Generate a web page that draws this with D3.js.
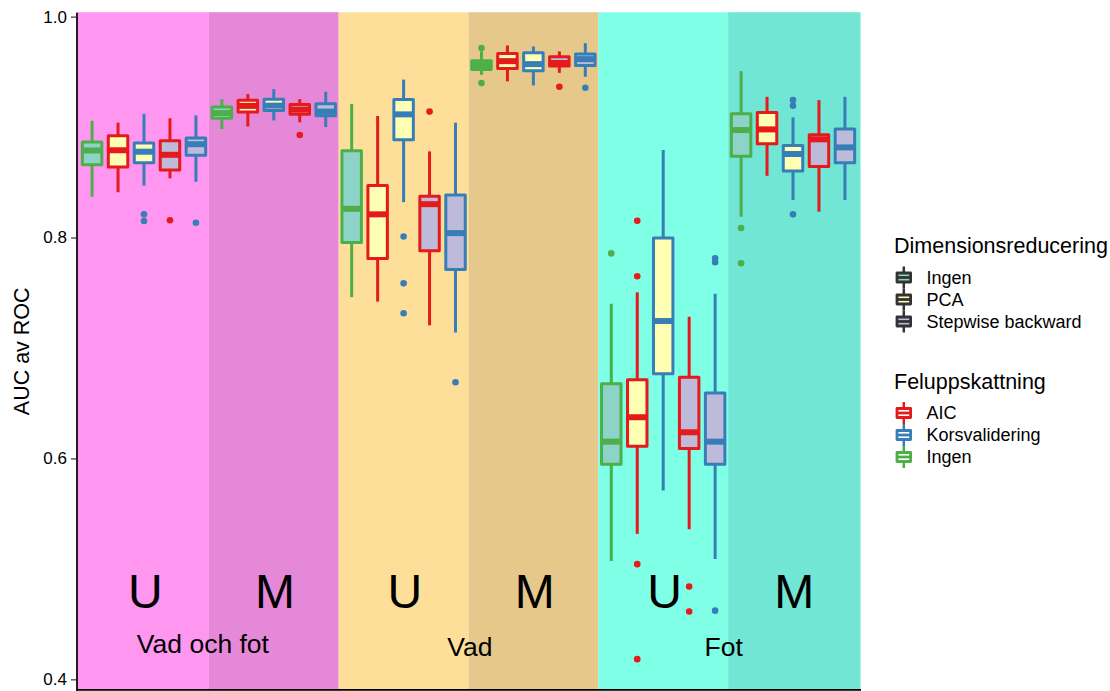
<!DOCTYPE html>
<html>
<head>
<meta charset="utf-8">
<script src="https://cdn.jsdelivr.net/npm/d3@7"></script>
<style>
  body { margin: 0; background: #fff; }
  svg { display: block; font-family: "Liberation Sans", Arial, Helvetica, sans-serif; }
</style>
</head>
<body>
<svg id="chart" width="1110" height="691"></svg>
<script>
// Body-part groups, each split into the U and M model sets
const panels = ["Vad och fot", "Vad", "Fot"];
const subsets = ["U", "M"];

// Model order inside every subset (5 boxes)
const dimReduction = ["Ingen", "PCA", "PCA", "Stepwise backward", "Stepwise backward"];
const errorEstimation = ["Ingen", "AIC", "Korsvalidering", "AIC", "Korsvalidering"];

// Legend levels
const dimLevels = ["Ingen", "PCA", "Stepwise backward"];
const errLevels = ["AIC", "Korsvalidering", "Ingen"];

// Box statistics for the 30 boxes (panel x subset x model), AUC values
const whiskerLow = [
  0.837, 0.841, 0.847, 0.8536, 0.8505,
  0.8982, 0.9006, 0.906, 0.9043, 0.900,
  0.746, 0.742, 0.832, 0.7205, 0.714,
  0.9473, 0.9414, 0.9377, 0.9491, 0.9455,
  0.5072, 0.5317, 0.5709, 0.5359, 0.509,
  0.8188, 0.8559, 0.8339, 0.8234, 0.8339
];
const q1 = [
  0.866, 0.8638, 0.8677, 0.8611, 0.8744,
  0.9079, 0.9136, 0.9151, 0.9115, 0.9102,
  0.7955, 0.781, 0.8885, 0.788, 0.771,
  0.9522, 0.9531, 0.951, 0.9552, 0.9558,
  0.5947, 0.611, 0.6767, 0.6089, 0.5947,
  0.8735, 0.8849, 0.8602, 0.8644, 0.8677
];
const median = [
  0.8788, 0.879, 0.8777, 0.8749, 0.8845,
  0.9127, 0.9192, 0.9194, 0.9158, 0.914,
  0.826, 0.821, 0.9115, 0.8302, 0.804,
  0.9561, 0.9597, 0.957, 0.958, 0.9615,
  0.6152, 0.6373, 0.7244, 0.6237, 0.6152,
  0.8973, 0.8979, 0.8756, 0.8889, 0.8816
];
const q3 = [
  0.8864, 0.8921, 0.8855, 0.8876, 0.890,
  0.9181, 0.9242, 0.9253, 0.9205, 0.9211,
  0.8785, 0.847, 0.925, 0.8373, 0.8385,
  0.960, 0.9667, 0.9672, 0.9636, 0.9661,
  0.6677, 0.6713, 0.7995, 0.6735, 0.6593,
  0.912, 0.9133, 0.8834, 0.893, 0.8982
];
const whiskerHigh = [
  0.9057, 0.904, 0.912, 0.908, 0.9106,
  0.9253, 0.9299, 0.9344, 0.9253, 0.932,
  0.921, 0.910, 0.943, 0.878, 0.904,
  0.9685, 0.9739, 0.973, 0.9685, 0.976,
  0.740, 0.7504, 0.8792, 0.7283, 0.7491,
  0.9507, 0.9274, 0.9088, 0.9244, 0.9274
];
const outliers = [
  [], [], [0.821, 0.815], [0.8156], [0.8134],
  [], [], [], [0.8928], [],
  [], [], [0.801, 0.7585, 0.7314], [0.914], [0.669],
  [0.9715, 0.9398], [], [], [0.9365], [0.9356],
  [0.7857], [0.8152, 0.7649, 0.5043, 0.4183], [], [0.484, 0.4614], [0.7812, 0.7776, 0.4622],
  [0.8086, 0.7767], [], [0.9244, 0.9193, 0.821], [], []
];

// Axis ticks and annotation positions (data units)
const yTicks = [0.4, 0.6, 0.8, 1.0];
const subsetLabelY = 0.48;
const panelLabelX = [5.27, 15.55, 25.33];
const panelLabelY = [0.432, 0.43, 0.43];

// ---------------------------------------------------------------
const svg = d3.select("#chart");
const FONT_TITLE = 21.5;
const FONT_TICK = 17;
const FONT_LEGEND = 18;

const x = d3.scaleLinear().domain([0.4, 30.6]).range([76.5, 860.5]);
const y = d3.scaleLinear().domain([0.39, 1.004]).range([690.4, 12.2]);

const fillScale = d3.scaleOrdinal().domain(dimLevels).range(["#8DD3C7", "#FFFFB3", "#BEBADA"]);
const colourScale = d3.scaleOrdinal().domain(errLevels).range(["#E41A1C", "#377EB8", "#4DAF4A"]);

// Background bands, one per panel/subset pair
const bandFills = [["#FF96F0", "#E688D8"], ["#FEDF99", "#E6C98A"], ["#7FFFE6", "#71E6D4"]];
const bands = [];
panels.forEach((p, pi) => subsets.forEach((s, si) => {
  const k = pi * 2 + si;
  bands.push({
    k, panel: p, subset: s,
    x0: k === 0 ? x.domain()[0] : k * 5 + 0.5,
    x1: k === 5 ? x.domain()[1] : (k + 1) * 5 + 0.5,
    fill: bandFills[pi][si]
  });
}));

svg.append("g").selectAll("rect").data(bands).join("rect")
  .attr("x", d => x(d.x0))
  .attr("width", d => x(d.x1) - x(d.x0))
  .attr("y", y.range()[1])
  .attr("height", y.range()[0] - y.range()[1])
  .attr("fill", d => d.fill);

// Subset letters
svg.append("g").selectAll("text").data(bands).join("text")
  .attr("x", d => x(d.k * 5 + 3.05))
  .attr("y", y(subsetLabelY) + 0.358 * 48)
  .attr("text-anchor", "middle")
  .attr("font-size", 48)
  .attr("fill", "#000")
  .text(d => d.subset);

// Panel names
svg.append("g").selectAll("text").data(panels).join("text")
  .attr("x", (d, i) => x(panelLabelX[i]))
  .attr("y", (d, i) => y(panelLabelY[i]) + 0.358 * 26.5)
  .attr("text-anchor", "middle")
  .attr("font-size", 26.5)
  .attr("fill", "#000")
  .text(d => d);

// Boxplots
const boxes = d3.range(30).map(i => ({
  pos: i + 1, lo: whiskerLow[i], q1: q1[i], med: median[i], q3: q3[i], hi: whiskerHigh[i],
  out: outliers[i], dim: dimReduction[i % 5], err: errorEstimation[i % 5]
}));
const halfW = 0.375;
const LW = 3;

const bg = svg.append("g").selectAll("g").data(boxes).join("g");
bg.append("line")
  .attr("x1", d => x(d.pos)).attr("x2", d => x(d.pos))
  .attr("y1", d => y(d.hi)).attr("y2", d => y(d.lo))
  .attr("stroke", d => colourScale(d.err)).attr("stroke-width", LW);
bg.append("rect")
  .attr("x", d => x(d.pos - halfW))
  .attr("width", d => x(d.pos + halfW) - x(d.pos - halfW))
  .attr("y", d => y(d.q3))
  .attr("height", d => y(d.q1) - y(d.q3))
  .attr("fill", d => fillScale(d.dim))
  .attr("stroke", d => colourScale(d.err))
  .attr("stroke-width", LW)
  .attr("stroke-linejoin", "round");
bg.append("line")
  .attr("x1", d => x(d.pos - halfW)).attr("x2", d => x(d.pos + halfW))
  .attr("y1", d => y(d.med)).attr("y2", d => y(d.med))
  .attr("stroke", d => colourScale(d.err)).attr("stroke-width", LW * 2);
bg.selectAll("circle").data(d => d.out.map(v => ({v, d}))).join("circle")
  .attr("cx", o => x(o.d.pos))
  .attr("cy", o => y(o.v))
  .attr("r", 3.3)
  .attr("fill", o => colourScale(o.d.err));

// Axes
const yAxis = svg.append("g")
  .attr("transform", `translate(${x.range()[0]},0)`)
  .call(d3.axisLeft(y).tickValues(yTicks).tickFormat(d3.format(".1f")).tickSize(5.5).tickPadding(4).tickSizeOuter(0));
yAxis.select(".domain").attr("stroke", "#000").attr("stroke-width", 1.7);
yAxis.selectAll(".tick line").attr("stroke", "#333").attr("stroke-width", 1.2);
yAxis.selectAll(".tick text").attr("font-size", FONT_TICK).attr("fill", "#000")
  .attr("font-family", "Liberation Sans, Arial, sans-serif");

const xAxis = svg.append("g")
  .attr("transform", `translate(0,${y.range()[0] - 1})`)
  .call(d3.axisBottom(x).tickValues([]).tickSizeOuter(0));
xAxis.select(".domain").attr("stroke", "#000").attr("stroke-width", 1.7);

svg.append("text")
  .attr("transform", `translate(28.5,${(y.range()[0] + y.range()[1]) / 2}) rotate(-90)`)
  .attr("text-anchor", "middle")
  .attr("font-size", FONT_TITLE)
  .attr("fill", "#000")
  .text("AUC av ROC");

// Legends
function legend(title, levels, titleBaseline, firstCenter, step, keyStroke, keyFill) {
  const g = svg.append("g");
  g.append("text").attr("x", 894).attr("y", titleBaseline)
    .attr("font-size", FONT_TITLE).attr("fill", "#000").text(title);
  levels.forEach((lv, i) => {
    const cy = firstCenter + i * step;
    const cx = 903.8;
    const stroke = keyStroke(lv), fill = keyFill(lv);
    g.append("line").attr("x1", cx).attr("x2", cx)
      .attr("y1", cy - step / 2).attr("y2", cy + step / 2)
      .attr("stroke", stroke).attr("stroke-width", 2.5);
    g.append("rect").attr("x", cx - 6.8).attr("width", 13.6)
      .attr("y", cy - 4.5).attr("height", 9)
      .attr("fill", fill).attr("stroke", stroke).attr("stroke-width", 2.8)
      .attr("stroke-linejoin", "round");
    g.append("line").attr("x1", cx - 6.8).attr("x2", cx + 6.8)
      .attr("y1", cy).attr("y2", cy)
      .attr("stroke", stroke).attr("stroke-width", 2.8);
    g.append("text").attr("x", 926.5).attr("y", cy + 6.4)
      .attr("font-size", FONT_LEGEND).attr("fill", "#000").text(lv);
  });
}
legend("Dimensionsreducering", dimLevels, 252.5, 277.5, 22, () => "#333333", d => fillScale(d));
legend("Feluppskattning", errLevels, 388.5, 413, 22, d => colourScale(d), () => "#FFFFFF");
</script>
</body>
</html>
